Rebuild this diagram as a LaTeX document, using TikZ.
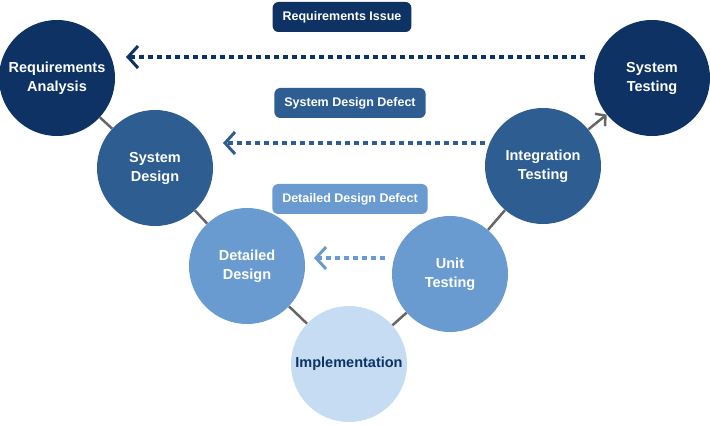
\documentclass[tikz,border=0pt]{standalone}
\usepackage{fontspec}
\setmainfont{Liberation Sans}
\usetikzlibrary{arrows.meta}
\definecolor{navy}{HTML}{0D3263}
\definecolor{midblue}{HTML}{2E5D92}
\definecolor{lightblue}{HTML}{6A9BD0}
\definecolor{paleblue}{HTML}{C5DCF3}
\tikzset{
  phase/.style={circle, minimum size=116pt, inner sep=0pt, align=center, text=white, font=\bfseries\fontsize{14.5}{19}\selectfont},
  issue/.style={rectangle, rounded corners=6pt, minimum height=30pt, text=white, font=\bfseries\fontsize{12.5}{14}\selectfont, inner xsep=10pt},
  link/.style={draw=gray!80!black, line width=2.5pt},
  feedback/.style={line width=4pt, dash pattern=on 5pt off 4pt, -{Straight Barb[length=10pt, width=22pt, line width=3pt]}}
}
\begin{document}
\begin{tikzpicture}[x=1pt, y=-1pt]
	\useasboundingbox (0,0) rectangle (710,425);
	\node[phase, fill=navy] (ra) at (57,78) {Requirements\\Analysis};
	\node[phase, fill=midblue] (sd) at (155,168) {System\\Design};
	\node[phase, fill=lightblue] (dd) at (247,266) {Detailed\\Design};
	\node[phase, fill=paleblue, text=navy] (im) at (349,364) {Implementation};
	\node[phase, fill=lightblue] (ut) at (450,274) {Unit\\Testing};
	\node[phase, fill=midblue] (it) at (543,166) {Integration\\Testing};
	\node[phase, fill=navy] (st) at (652,78) {System\\Testing};
	
	\node[issue, fill=navy] (ri) at (342,17) {Requirements Issue};
	\node[issue, fill=midblue] (sdd) at (350,103) {System Design Defect};
	\node[issue, fill=lightblue] (ddd) at (350,199) {Detailed Design Defect};
	
	\coordinate (a1) at (585,57);
	\coordinate (a2) at (126,57);
	\coordinate (b1) at (485,143);
	\coordinate (b2) at (223,143);
	\coordinate (c1) at (385,258);
	\coordinate (c2) at (314,258);
	
	\path[link] (ra) -- (sd);
	\path[link] (sd) -- (dd);
	\path[link] (dd) -- (im);
	\path[link] (im) -- (ut);
	\path[link] (ut) -- (it);
	\draw[link, -{Straight Barb[length=7pt, width=16pt]}] (it) -- (st);
	
	\draw[feedback, navy] (a1) -- (a2);
	\draw[feedback, midblue] (b1) -- (b2);
	\draw[feedback, lightblue] (c1) -- (c2);
\end{tikzpicture}
\end{document}
